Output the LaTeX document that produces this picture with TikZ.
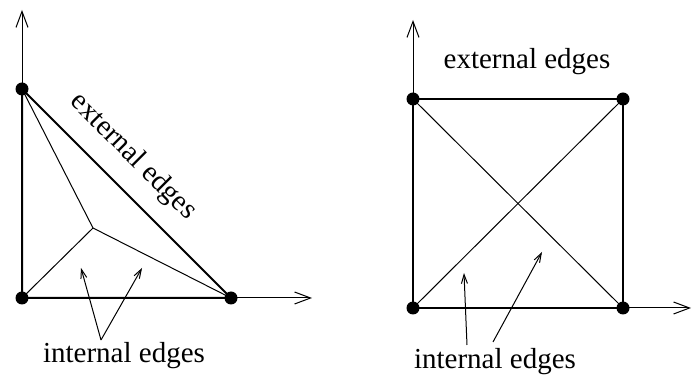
\documentclass[tikz,border=0pt]{standalone}
\usepackage{fontspec}
\setmainfont{Liberation Serif}
\usetikzlibrary{arrows.meta}
\begin{document}
\begin{tikzpicture}[x=0.5pt,y=-0.5pt,
  vtx/.style={circle,fill=black,inner sep=0pt,minimum size=6.5pt},
  axis/.style={line width=0.5pt,-{Straight Barb[length=8pt,width=6pt,line width=0.5pt]}},
  ext/.style={line width=1pt},
  int/.style={line width=0.5pt},
  ptr/.style={line width=0.5pt,-{Straight Barb[length=4.5pt,width=3pt,line width=0.5pt]}},
  lbl/.style={font=\fontsize{14.5pt}{16pt}\selectfont,inner sep=0pt}]
\useasboundingbox (0,0) rectangle (692,379);
% ---- left figure ----
\node[vtx] (A) at (22,89) {};
\node[vtx] (O) at (22,298) {};
\node[vtx] (B) at (231,298) {};
\coordinate (C) at (93,228);
\coordinate (Ly) at (22,10);
\coordinate (Lx) at (312,298);
\draw[axis] (O.center) -- (Ly);
\draw[axis] (O.center) -- (Lx);
\draw[ext] (A.center) -- (O.center) -- (B.center) -- cycle;
\draw[int] (A.center) -- (C) -- (B.center);
\draw[int] (O.center) -- (C);
\node[lbl,rotate=-45] (Lext) at (133,157) {external edges};
\node[lbl] (Lint) at (124,356) {internal edges};
\coordinate (Lp) at (101,340);
\coordinate (Lt1) at (81,268);
\coordinate (Lt2) at (142,268);
\draw[ptr] (Lp) -- (Lt1);
\draw[ptr] (Lp) -- (Lt2);
% ---- right figure ----
\node[vtx] (P) at (413,99) {};
\node[vtx] (Q) at (623,99) {};
\node[vtx] (R) at (413,308) {};
\node[vtx] (S) at (623,308) {};
\coordinate (Ry) at (413,20);
\coordinate (Rx) at (691,308);
\draw[axis] (R.center) -- (Ry);
\draw[axis] (R.center) -- (Rx);
\draw[ext] (P.center) -- (Q.center) -- (S.center) -- (R.center) -- cycle;
\draw[int] (P.center) -- (S.center);
\draw[int] (R.center) -- (Q.center);
\node[lbl] (Rext) at (527,62) {external edges};
\node[lbl] (Rint) at (495,362) {internal edges};
\coordinate (Rp1) at (467,345);
\coordinate (Rt1) at (464,273);
\coordinate (Rp2) at (493,342);
\coordinate (Rt2) at (542,252);
\draw[ptr] (Rp1) -- (Rt1);
\draw[ptr] (Rp2) -- (Rt2);
\end{tikzpicture}
\end{document}
